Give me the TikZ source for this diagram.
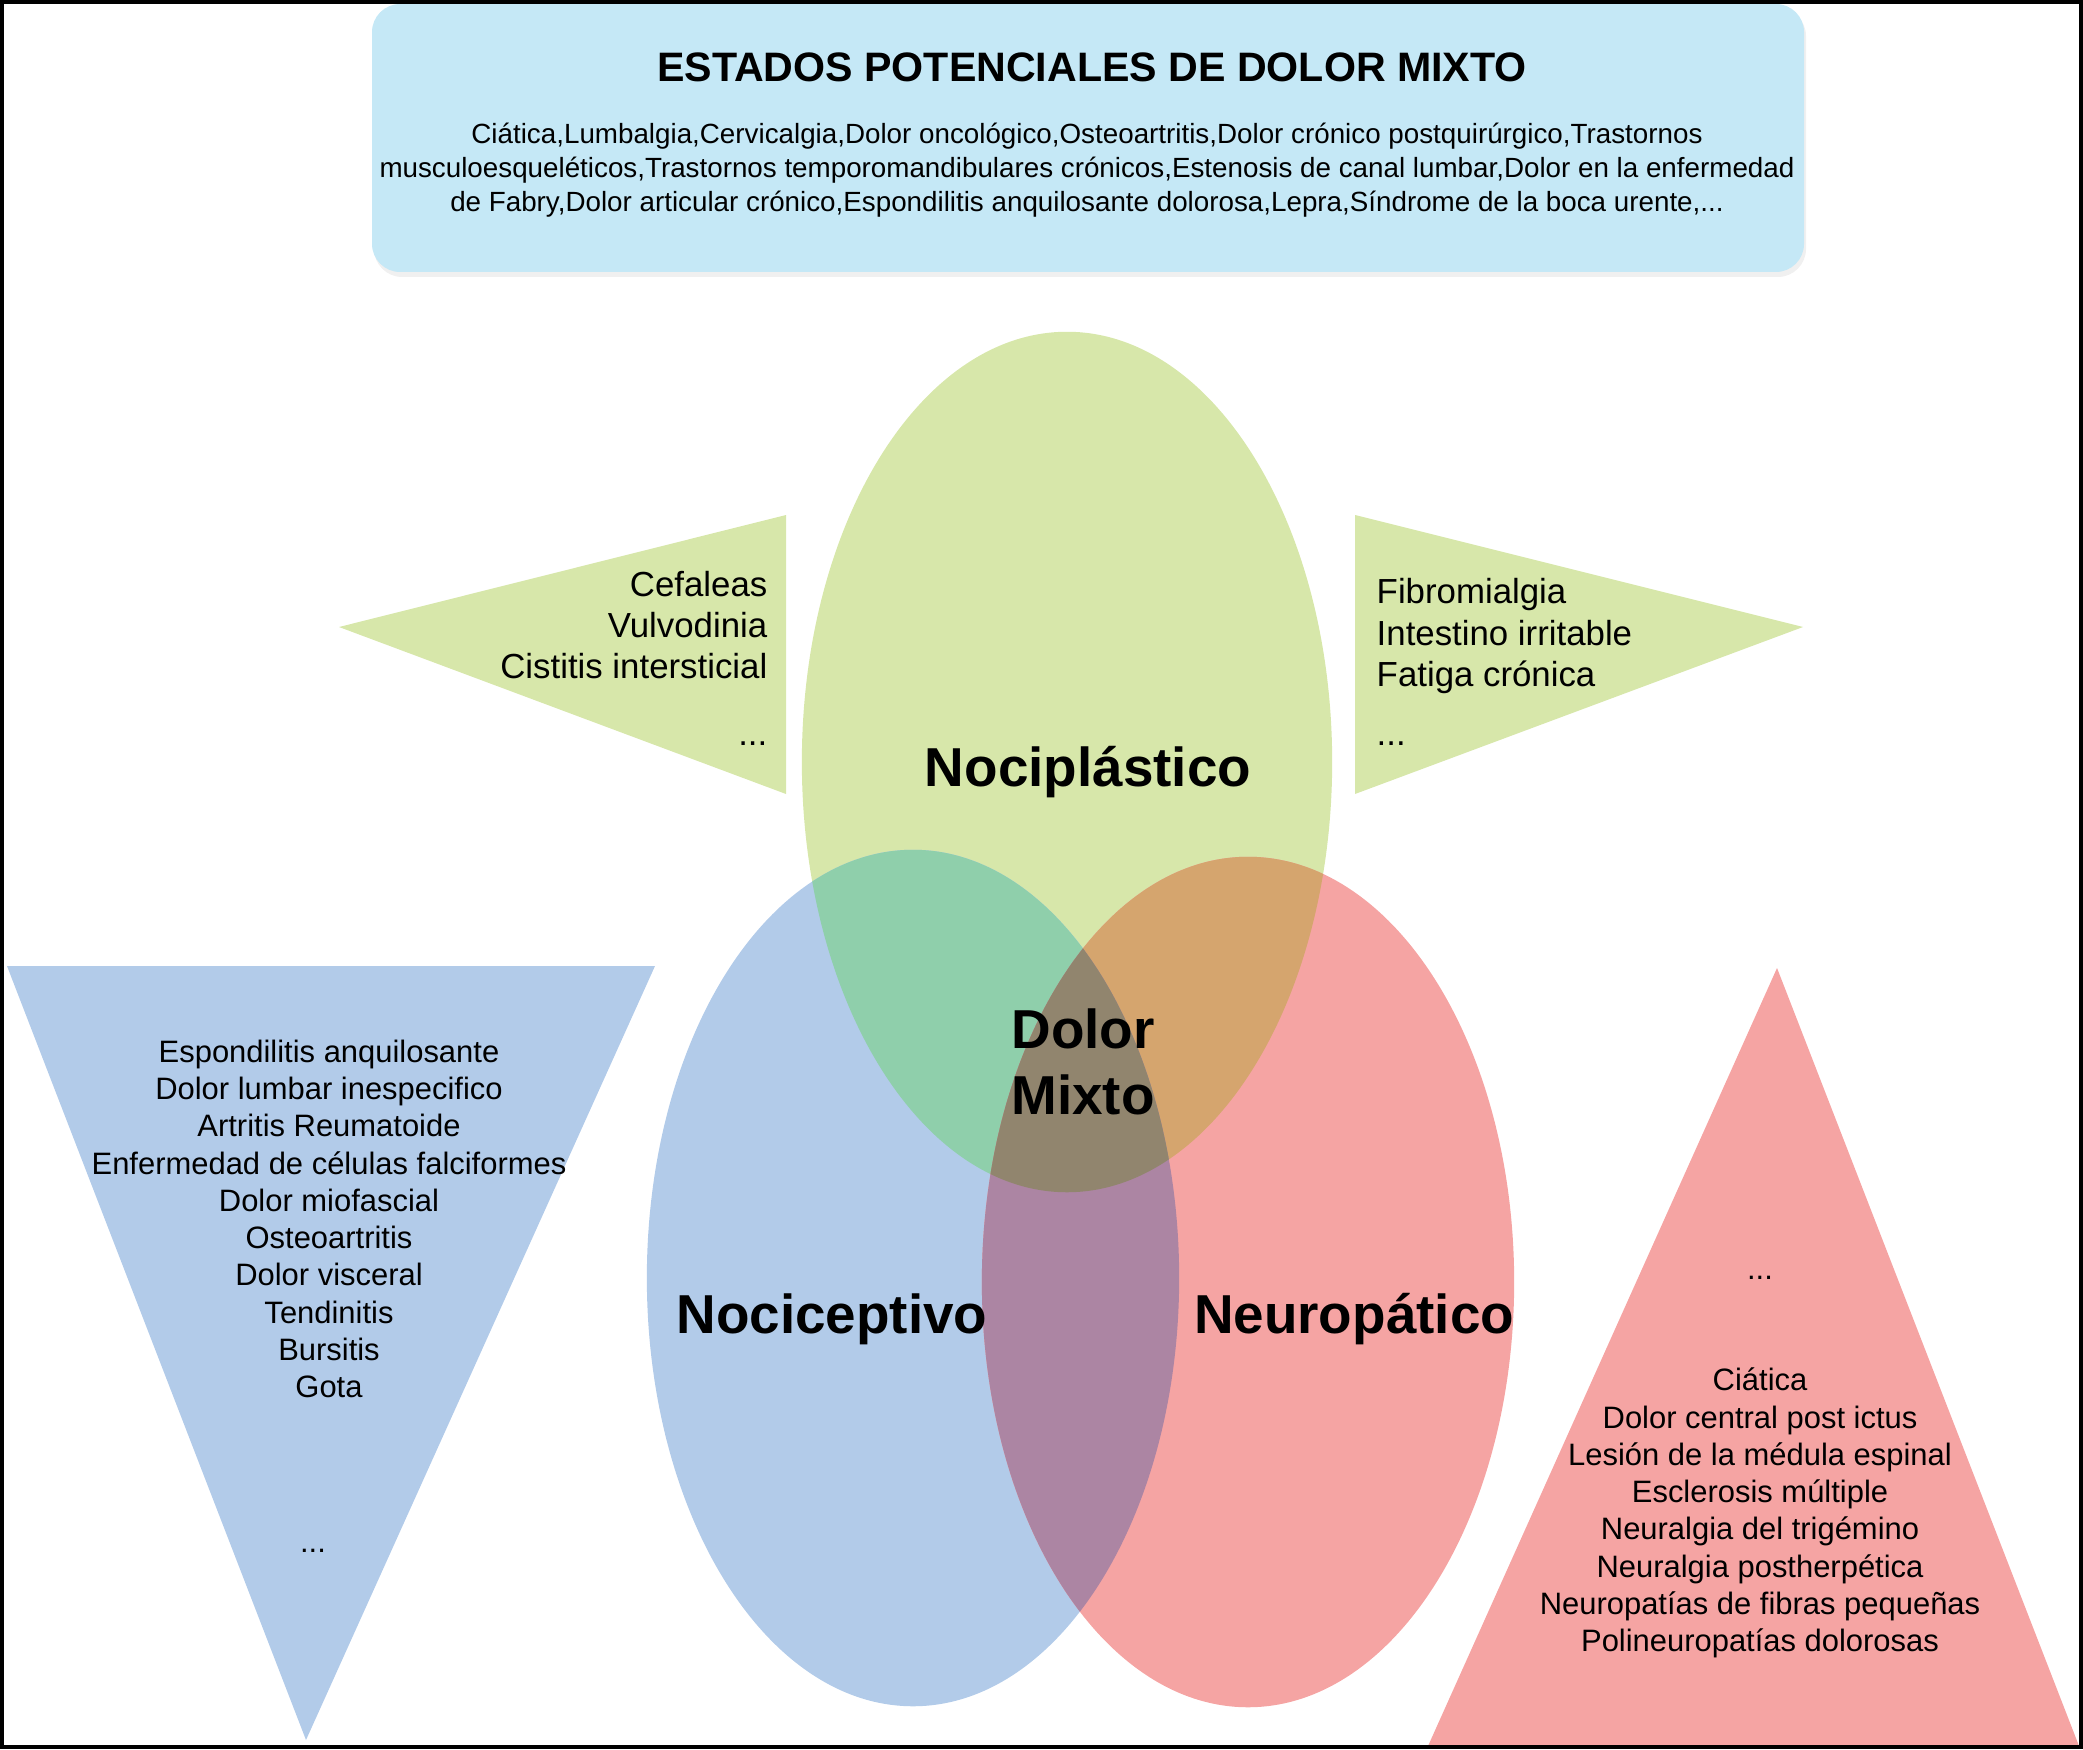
\documentclass[tikz,border=0pt]{standalone}
\usepackage{fontspec}
\setmainfont{Liberation Sans}
\usepackage{tikz}

\definecolor{verde}{RGB}{215,231,170}
\definecolor{azul}{RGB}{178,203,233}
\definecolor{rojo}{RGB}{245,164,163}
\definecolor{celeste}{RGB}{197,232,246}
\definecolor{verdeazul}{RGB}{143,207,171}
\definecolor{verderojo}{RGB}{213,165,110}
\definecolor{azulrojo}{RGB}{172,133,163}
\definecolor{trimixto}{RGB}{145,133,110}

\newcommand\elverde{(1067,762) ellipse [x radius=2.65cm,y radius=4.30cm]}
\newcommand\elazul{(913,1278) ellipse [x radius=2.66cm,y radius=4.28cm]}
\newcommand\elrojo{(1248,1282) ellipse [x radius=2.66cm,y radius=4.25cm]}

\begin{document}
\begin{tikzpicture}[x=0.01cm,y=-0.01cm,
    lista/.style={font=\fontsize{8.8}{10.6}\selectfont,align=center,inner sep=0},
    punta/.style={font=\fontsize{9.9}{11.7}\selectfont,inner sep=0},
    grande/.style={font=\fontsize{15.6}{18.8}\selectfont\bfseries,align=center,inner sep=0}]
        \useasboundingbox (0,0) rectangle (2083,1749);
        \fill[black!6,rounded corners=8] (374,8) rectangle (1806,277);
        \fill[celeste,rounded corners=8] (372,4) rectangle (1804,272);
        \node[font=\fontsize{11.7}{14}\selectfont\bfseries,inner sep=0] (titulo) at (1092,67) {ESTADOS POTENCIALES DE DOLOR MIXTO};
        \node[font=\fontsize{7.9}{9.7}\selectfont,align=center,inner sep=0] (estados) at (1087,170) {Ciática,Lumbalgia,Cervicalgia,Dolor oncológico,Osteoartritis,Dolor crónico postquirúrgico,Trastornos\\musculoesqueléticos,Trastornos temporomandibulares crónicos,Estenosis de canal lumbar,Dolor en la enfermedad\\de Fabry,Dolor articular crónico,Espondilitis anquilosante dolorosa,Lepra,Síndrome de la boca urente,...};
        % triangulos
        \fill[verde] (339,627) -- (786,515) -- (786,794) -- cycle;
        \fill[verde] (1355,515) -- (1803,627) -- (1355,794) -- cycle;
        \fill[azul] (7,966) -- (655,966) -- (306,1740) -- cycle;
        \fill[rojo] (1777,968) -- (2079,1746) -- (1428,1746) -- cycle;
        % elipses
        \fill[verde] \elverde;
        \fill[azul] \elazul;
        \fill[rojo] \elrojo;
        \begin{scope} \clip \elverde; \fill[verdeazul] \elazul; \end{scope}
        \begin{scope} \clip \elverde; \fill[verderojo] \elrojo; \end{scope}
        \begin{scope} \clip \elazul; \fill[azulrojo] \elrojo; \end{scope}
        \begin{scope} \clip \elverde; \clip \elazul; \fill[trimixto] \elrojo; \end{scope}
        \node[grande] (nocip) at (1088,772) {Nociplástico};
        \node[grande] (nocic) at (832,1319) {Nociceptivo};
        \node[grande] (neuro) at (1354,1319) {Neuropático};
        \node[grande] (mixto) at (1083,1062) {Dolor\\Mixto};
        \node[punta,align=right,anchor=east] (izq) at (768,625) {Cefaleas\\Vulvodinia\\Cistitis intersticial};
        \node[punta,anchor=base east] (izqp) at (768,745) {...};
        \node[punta,align=left,anchor=west] (der) at (1376,636) {Fibromialgia\\Intestino irritable\\Fatiga crónica};
        \node[punta,anchor=base west] (derp) at (1376,745) {...};
        \node[lista] (nocilista) at (329,1219) {Espondilitis anquilosante\\Dolor lumbar inespecifico\\Artritis Reumatoide\\Enfermedad de células falciformes\\Dolor miofascial\\Osteoartritis\\Dolor visceral\\Tendinitis\\Bursitis\\Gota};
        \node[lista] (nocipuntos) at (313,1551) {...};
        \node[lista] (neuropuntos) at (1760,1278) {...};
        \node[lista] (neurolista) at (1760,1513) {Ciática\\Dolor central post ictus\\Lesión de la médula espinal\\Esclerosis múltiple\\Neuralgia del trigémino\\Neuralgia postherpética\\Neuropatías de fibras pequeñas\\Polineuropatías dolorosas};
        \draw[line width=0.9pt] (2,2) rectangle (2081,1747);
      \end{tikzpicture}
\end{document}
